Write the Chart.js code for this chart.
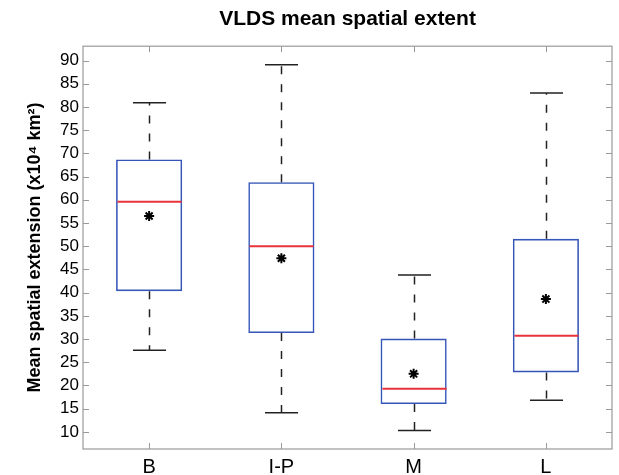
<!DOCTYPE html>
<html>
<head>
<meta charset="utf-8">
<title>VLDS mean spatial extent</title>
<script src="https://cdn.jsdelivr.net/npm/chart.js@4/dist/chart.umd.min.js"></script>
<style>
  html, body { margin: 0; padding: 0; background: #fff; }
  #wrap { width: 619px; height: 475px; }
</style>
</head>
<body>
<div id="wrap"><canvas id="boxChart"></canvas></div>
<script>
// Box plot summary per region (x10^4 km^2)
const categories = ['B', 'I-P', 'M', 'L'];
const whiskerLow = [27.6, 14.1, 10.3, 16.8];
const q1 = [40.3, 31.3, 16.0, 22.8];
const medians = [59.6, 50.0, 19.3, 30.7];
const q3 = [68.7, 63.8, 30.1, 51.6];
const whiskerHigh = [80.9, 89.1, 43.8, 83.0];
const means = [56.5, 47.4, 22.5, 38.6];
const yTicks = [10, 15, 20, 25, 30, 35, 40, 45, 50, 55, 60, 65, 70, 75, 80, 85, 90];

const BLUE = '#3556b8';
const RED = '#e8333b';
const FRAME = '#9a9a9a';

Chart.defaults.font.family = '"Liberation Sans", Arial, Helvetica, sans-serif';
Chart.defaults.color = '#000';

// whiskers, caps, medians, then the axes frame with inward ticks
const boxDecor = {
  id: 'boxDecor',
  afterDatasetsDraw(chart) {
    const { ctx, scales: { x, y } } = chart;
    const step = x.getPixelForValue(1) - x.getPixelForValue(0);
    const boxHalf = step * 0.25;
    const capHalf = step * 0.125;
    ctx.save();
    categories.forEach((c, i) => {
      const cx = Math.round(x.getPixelForValue(i)) + 0.5;
      // dashed whiskers
      ctx.strokeStyle = '#222';
      ctx.lineWidth = 1.5;
      ctx.setLineDash([8, 10]);
      ctx.beginPath();
      ctx.moveTo(cx, y.getPixelForValue(q3[i]));
      ctx.lineTo(cx, y.getPixelForValue(whiskerHigh[i]));
      ctx.moveTo(cx, y.getPixelForValue(q1[i]));
      ctx.lineTo(cx, y.getPixelForValue(whiskerLow[i]));
      ctx.stroke();
      // caps
      ctx.setLineDash([]);
      ctx.beginPath();
      [whiskerHigh[i], whiskerLow[i]].forEach(v => {
        const py = y.getPixelForValue(v);
        ctx.moveTo(cx - capHalf, py);
        ctx.lineTo(cx + capHalf, py);
      });
      ctx.stroke();
      // median
      ctx.strokeStyle = RED;
      ctx.lineWidth = 2;
      ctx.beginPath();
      const my = y.getPixelForValue(medians[i]);
      ctx.moveTo(cx - boxHalf + 1, my);
      ctx.lineTo(cx + boxHalf - 1, my);
      ctx.stroke();
    });
    ctx.restore();
  },
  afterDraw(chart) {
    const { ctx, chartArea: a, scales: { x, y } } = chart;
    ctx.save();
    ctx.strokeStyle = FRAME;
    ctx.lineWidth = 1.2;
    ctx.strokeRect(a.left, a.top, a.right - a.left, a.bottom - a.top);
    ctx.beginPath();
    yTicks.forEach(v => {
      const py = Math.round(y.getPixelForValue(v)) + 0.5;
      ctx.moveTo(a.left, py); ctx.lineTo(a.left + 6, py);
      ctx.moveTo(a.right, py); ctx.lineTo(a.right - 6, py);
    });
    categories.forEach((c, i) => {
      const px = Math.round(x.getPixelForValue(i)) + 0.5;
      ctx.moveTo(px, a.bottom); ctx.lineTo(px, a.bottom - 6);
      ctx.moveTo(px, a.top); ctx.lineTo(px, a.top + 6);
    });
    ctx.lineWidth = 1;
    ctx.stroke();
    ctx.restore();
  }
};

new Chart(document.getElementById('boxChart'), {
  data: {
    labels: categories,
    datasets: [
      {
        type: 'line',
        label: 'Mean',
        data: means,
        showLine: false,
        pointStyle: 'star',
        pointRadius: 5,
        borderColor: '#000',
        borderWidth: 2,
        order: 0
      },
      {
        type: 'bar',
        label: 'IQR',
        data: categories.map((c, i) => [q1[i], q3[i]]),
        backgroundColor: 'rgba(0,0,0,0)',
        borderColor: BLUE,
        borderWidth: 1.6,
        borderSkipped: false,
        categoryPercentage: 1,
        barPercentage: 0.5,
        order: 1
      }
    ]
  },
  options: {
    responsive: true,
    maintainAspectRatio: false,
    animation: false,
    devicePixelRatio: 1,
    layout: { padding: { left: 0, right: 6, top: 0, bottom: 0 } },
    scales: {
      x: {
        grid: { display: false, drawTicks: false },
        border: { display: false },
        ticks: { font: { size: 20 }, padding: 6 },
        afterFit: s => { s.height = 26; }
      },
      y: {
        min: 6.3,
        max: 93.1,
        grid: { display: false, drawTicks: false },
        border: { display: false },
        ticks: { font: { size: 17 }, padding: 4 },
        afterBuildTicks: s => { s.ticks = yTicks.map(v => ({ value: v })); },
        afterFit: s => { s.width = 83; },
        title: {
          display: true,
          text: 'Mean spatial extension (x10⁴ km²)',
          font: { size: 18, weight: 'bold' },
          padding: { top: 24, bottom: 0 }
        }
      }
    },
    plugins: {
      legend: { display: false },
      tooltip: { enabled: false },
      title: {
        display: true,
        fullSize: false,
        text: 'VLDS mean spatial extent',
        font: { size: 21, weight: 'bold' },
        padding: { top: 7, bottom: 14 }
      }
    }
  },
  plugins: [boxDecor]
});
</script>
</body>
</html>
